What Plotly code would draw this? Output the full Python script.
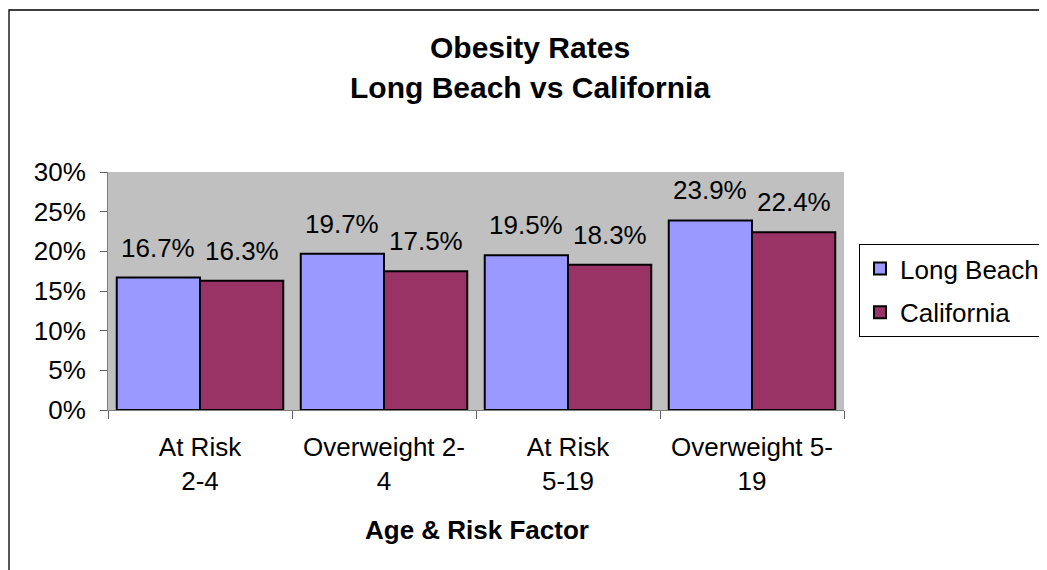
import plotly.graph_objects as go

categories = ["At Risk<br>2-4", "Overweight 2-<br>4", "At Risk<br>5-19", "Overweight 5-<br>19"]
long_beach = [0.167, 0.197, 0.195, 0.239]
california = [0.163, 0.175, 0.183, 0.224]
series_names = ["Long Beach", "California"]
series_colors = ["#9999FF", "#993366"]

font = "Liberation Sans, Arial, sans-serif"

# layout geometry (figure pixels; page body adds an 8px offset)
W, H = 1039, 562
L, R, T, B = 100, 203, 164, 160
plot_w = W - L - R
plot_h = H - T - B
bargap = 0.095


def py(p):  # figure pixel y -> paper y
    return (H - B - p) / plot_h


def px(p):  # figure pixel x -> paper x
    return (p - L) / plot_w


fig = go.Figure()
for name, vals, col in zip(series_names, [long_beach, california], series_colors):
    fig.add_trace(go.Bar(
        name=name, x=categories, y=vals, legendgroup=name,
        marker=dict(color=col, line=dict(color="black", width=2)),
        cliponaxis=False,
    ))

# value labels above bars
bar_w = plot_w / len(categories) * (1 - bargap) / 2
annotations = []
for i, vals in enumerate([long_beach, california]):
    shift = (i - 0.5) * bar_w
    for c, v in zip(categories, vals):
        annotations.append(dict(
            x=c, y=v, xref="x", yref="y", text=f"{v*100:.1f}%",
            showarrow=False, xshift=shift, yshift=30, yanchor="middle",
            font=dict(size=26, family=font, color="black"),
        ))

# title lines
annotations.append(dict(text="<b>Obesity Rates</b>", xref="paper", yref="paper",
                        x=px(522), y=py(39.5), xanchor="center", yanchor="middle",
                        showarrow=False, font=dict(size=30, family=font, color="black")))
annotations.append(dict(text="<b>Long Beach vs California</b>", xref="paper", yref="paper",
                        x=px(522), y=py(79.5), xanchor="center", yanchor="middle",
                        showarrow=False, font=dict(size=30, family=font, color="black")))
# x axis title
annotations.append(dict(text="<b>Age & Risk Factor</b>", xref="paper", yref="paper",
                        x=px(469), y=py(522), xanchor="center", yanchor="middle",
                        showarrow=False, font=dict(size=26, family=font, color="black")))

fig.update_layout(
    width=W, height=H,
    margin=dict(l=L, r=R, t=T, b=B, autoexpand=False),
    paper_bgcolor="white", plot_bgcolor="#C0C0C0",
    barmode="group", bargap=bargap, bargroupgap=0,
    font=dict(family=font, size=26, color="black"),
    legend=dict(x=px(851), y=py(236), xanchor="left", yanchor="top",
                bordercolor="black", borderwidth=1, bgcolor="white",
                traceorder="grouped", tracegroupgap=7,
                font=dict(size=26, family=font, color="black")),
    annotations=annotations,
    showlegend=True,
)
fig.update_yaxes(range=[0, 0.3], dtick=0.05, tickformat=".0%", showgrid=False,
                 ticks="outside", ticklen=7, tickcolor="#606060",
                 showline=True, linecolor="#808080", linewidth=1,
                 tickfont=dict(size=26), zeroline=False, ticklabelstandoff=9)
fig.update_xaxes(showgrid=False, ticks="outside", ticklen=8, tickcolor="#606060",
                 tickson="boundaries", showline=True, linecolor="#808080", linewidth=1,
                 tickfont=dict(size=26), ticklabelstandoff=14)

# outer chart border (left and top edges visible)
fig.add_shape(type="rect", xref="paper", yref="paper",
              x0=px(1), x1=px(1300), y0=py(900), y1=py(2),
              line=dict(color="black", width=1.3), fillcolor="rgba(0,0,0,0)", layer="below")

fig.write_html("out.html")
